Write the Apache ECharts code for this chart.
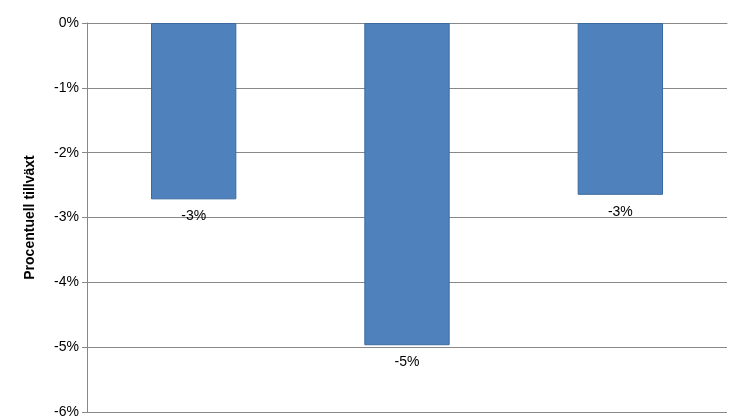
<!DOCTYPE html><html><head><meta charset="utf-8"><script src="https://cdn.jsdelivr.net/npm/echarts@6/dist/echarts.min.js"></script></head><body style="margin:0;background:#fff"><div id="c" style="width:746px;height:419px"></div><script>
const categories=['2011','2012','2013'];
const values=[-2.72,-4.97,-2.65];
const yTicks=[0,-1,-2,-3,-4,-5,-6];
const ch=echarts.init(document.getElementById('c'));
ch.setOption({animation:false,
grid:{left:87,right:19,top:23,bottom:6},
xAxis:{type:'category',data:categories,position:'top',axisTick:{show:false},axisLine:{lineStyle:{color:'#888'}},
axisLabel:{inside:true,margin:15,color:'#000',fontFamily:'Liberation Sans',fontSize:14}},
yAxis:{type:'value',min:-6,max:0,interval:1,name:'Procentuell tillväxt',nameLocation:'middle',nameGap:50,
nameTextStyle:{fontWeight:'bold',fontSize:14,color:'#000',fontFamily:'Liberation Sans'},
axisLine:{show:true,lineStyle:{color:'#888'}},axisTick:{show:true,lineStyle:{color:'#888'}},
splitLine:{lineStyle:{color:'#888'}},
axisLabel:{formatter:v=>v+'%',color:'#000',fontSize:14,fontFamily:'Liberation Sans'}},
series:[{type:'bar',data:values,barWidth:'40%',z:1,itemStyle:{color:'#4f81bd',borderColor:'#3a6aa0',borderWidth:1},
label:{show:true,position:'bottom',distance:10,color:'#000',fontSize:14,fontFamily:'Liberation Sans',formatter:p=>Math.round(p.value)+'%'}}]
});
</script></body></html>
